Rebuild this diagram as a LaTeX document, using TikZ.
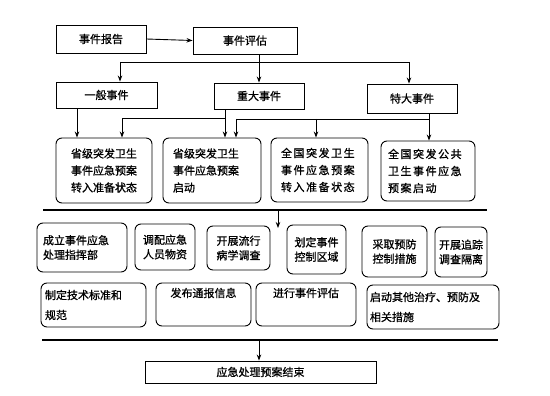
\documentclass[tikz,border=0pt]{standalone}
\usepackage{fontspec}
\newfontfamily\cjk[FakeBold=1]{Noto Sans CJK SC}
\newfontfamily\cjkw[FakeBold=1,LetterSpace=14]{Noto Sans CJK SC}
\usetikzlibrary{arrows.meta}
\begin{document}
\begin{tikzpicture}[x=1pt,y=-1pt,
  box/.style={draw,line width=0.9pt,inner sep=0pt,font=\cjk\fontsize{11}{17}\selectfont,align=center},
  rbox/.style={box,rounded corners=6pt},
  ln/.style={line width=0.9pt},
  arr/.style={ln,-{Stealth[length=6pt,width=4.5pt]}},
  bar/.style={line width=2.6pt}]
\useasboundingbox (0,0) rectangle (550,396);
% top level
\node[box,minimum width=90pt,minimum height=28pt] (rep) at (101,39) {事件报告};
\node[box,minimum width=104pt,minimum height=27pt] (eva) at (245,40.5) {事件评估};
\node[box,minimum width=101pt,minimum height=26pt] (gen) at (106.5,95) {一般事件};
\node[box,minimum width=90pt,minimum height=26pt] (maj) at (259,96) {重大事件};
\node[box,minimum width=90pt,minimum height=29pt] (ext) at (412,98.5) {特大事件};
% plans
\node[rbox,minimum width=96pt,minimum height=65pt] (p1) at (104,170.5) {省级突发卫生\\事件应急预案\\转入准备状态};
\node[rbox,minimum width=90pt,minimum height=65pt,text width=78pt,align=left,inner xsep=10pt] (p2) at (212,170.5) {省级突发卫生\\事件应急预案\\启动};
\node[rbox,minimum width=95pt,minimum height=64pt,font=\cjkw\fontsize{11}{17}\selectfont,text width=77pt,align=left,inner xsep=10pt] (p3) at (319.5,170) {全国突发卫生\\事件应急预案\\转入准备状态};
\node[rbox,minimum width=94pt,minimum height=60pt,font=\cjkw\fontsize{11}{17}\selectfont,text width=80pt,align=left,inner xsep=7pt] (p4) at (428,171) {全国突发公共\\卫生事件应急\\预案启动};
% actions row 1
\tikzset{arow/.style={rbox,font=\cjk\fontsize{11}{14.5}\selectfont}}
\node[arow,minimum width=90pt,minimum height=49pt,text width=78pt,align=left,inner xsep=6pt] (a1) at (82,247.5) {成立事件应急\\处理指挥部};
\node[arow,minimum width=60pt,minimum height=46pt] (a2) at (165,247) {调配应急\\人员物资};
\node[arow,minimum width=63pt,minimum height=44pt] (a3) at (238.5,248) {开展流行\\病学调查};
\node[arow,minimum width=59pt,minimum height=49pt] (a4) at (316.5,249.5) {划定事件\\控制区域};
\node[arow,minimum width=65pt,minimum height=51pt] (a5) at (394.5,251.5) {采取预防\\控制措施};
\node[arow,minimum width=52pt,minimum height=50pt] (a6) at (461,252) {开展追踪\\调查隔离};
% actions row 2
\tikzset{brow/.style={rbox,font=\cjk\fontsize{11}{20}\selectfont}}
\node[brow,minimum height=44pt,text width=97pt,align=left,inner xsep=4pt] (b1) at (93.5,305) {制定技术标准和\\规范};
\node[brow,minimum width=95pt,minimum height=43pt] (b2) at (203.5,304.5) {发布通报信息\\[4pt]\mbox{}};
\node[brow,minimum width=100pt,minimum height=43pt] (b3) at (306,304.5) {进行事件评估\\[4pt]\mbox{}};
\node[brow,minimum height=44pt,text width=126pt,align=left,inner xsep=3pt] (b4) at (433,307) {启动其他治疗、预防及\\相关措施};
% end
\node[box,minimum width=231pt,minimum height=22pt] (end) at (260.5,372) {应急处理预案结束};
% connectors top
\draw[arr] (rep.east) -- (eva.west);
\draw[arr] (eva.south -| maj.north) -- (maj.north);
\coordinate (hl) at (120,62);
\coordinate (hr) at (409,62);
\draw[ln] (hl) -- (hr);
\draw[arr] (hl) -- (hl |- gen.north);
\draw[arr] (hr) -- (hr |- ext.north);
% to plans
\coordinate (g1) at (77,0);
\draw[arr] (g1 |- gen.south) -- (g1 |- p1.north);
\coordinate (m1) at (225,118);
\coordinate (m2) at (122,118);
\draw[arr] (m1 |- maj.south) -- (m1 |- p2.north);
\draw[arr] (m1) -- (m2) -- (m2 |- p1.north);
\coordinate (e1) at (429,119);
\coordinate (e2) at (236,119);
\coordinate (e3) at (316,119);
\draw[ln] (e1 |- ext.south) -- (e1) -- (e2);
\draw[arr] (e1) -- (e1 |- p4.north);
\draw[arr] (e2) -- (e2 |- p2.north);
\draw[arr] (e3) -- (e3 |- p3.north);
% bars
\coordinate (bar1l) at (43,210);
\coordinate (bar1r) at (487,210);
\draw[bar] (bar1l) -- (bar1r);
\coordinate (s1) at (278,210);
\coordinate (s2) at (278,228);
\draw[arr] (s1) -- (s2);
\coordinate (bar2l) at (42,340);
\coordinate (bar2r) at (498,340);
\draw[bar] (bar2l) -- (bar2r);
\coordinate (s3) at (259,340);
\draw[arr] (s3) -- (s3 |- end.north);
\end{tikzpicture}
\end{document}
